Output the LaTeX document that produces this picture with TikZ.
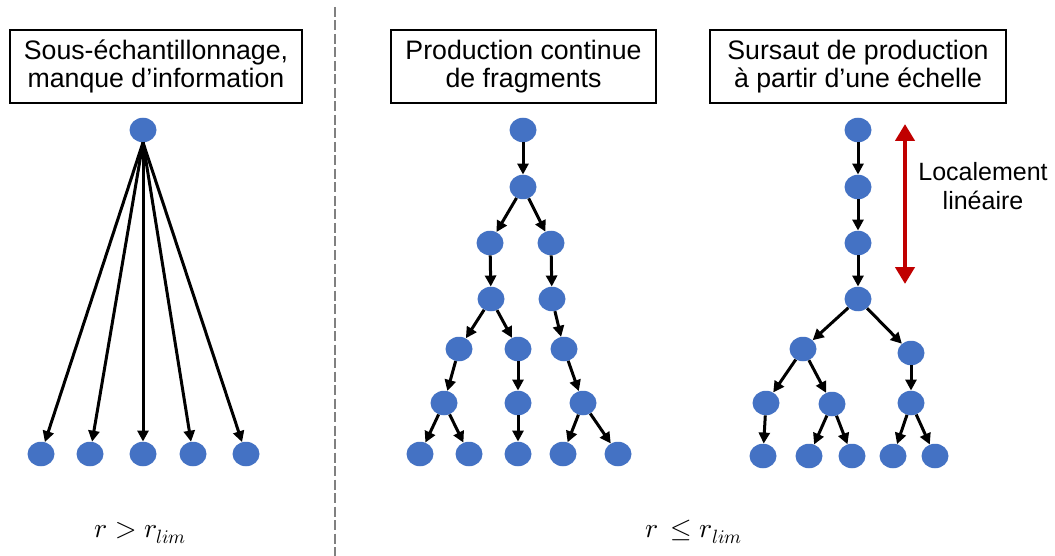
\documentclass[tikz,border=0pt]{standalone}
\usepackage{fontspec}
\usepackage{unicode-math}
\setmainfont{Liberation Sans}
\setmathfont{Latin Modern Math}
\usetikzlibrary{shapes.geometric, arrows.meta}
\definecolor{nodeblue}{HTML}{4472C4}
\definecolor{darkred}{HTML}{C00000}
\definecolor{sepgray}{HTML}{808080}
\begin{document}
\begin{tikzpicture}[x=1pt,y=-1pt,
  blob/.style={ellipse, fill=nodeblue, minimum width=27pt, minimum height=24.5pt, inner sep=0pt},
  link/.style={line width=3pt, -{Triangle[length=11pt,width=11pt]}},
  titlebox/.style={draw, line width=2.2pt, minimum height=73pt, align=center, font=\fontsize{26.7}{28.5}\selectfont, inner sep=0pt},
  redarrow/.style={darkred, line width=4.5pt, {Triangle[length=17pt,width=19pt]}-{Triangle[length=17pt,width=19pt]}},
  mathlabel/.style={font=\fontsize{27.5}{30}\selectfont, anchor=base, inner sep=0pt},
  sidelabel/.style={font=\fontsize{25}{29}\selectfont, align=center, inner sep=0pt}
  ]
\useasboundingbox (0,0) rectangle (1055,556);
\fill[white] (0,0) rectangle (1055,556);

% titles
\node[titlebox, minimum width=292pt] (t1) at (156,66.5) {Sous-échantillonnage,\\manque d’information};
\node[titlebox, minimum width=265pt] (t2) at (523.5,66.5) {Production continue\\de fragments};
\node[titlebox, minimum width=296pt] (t3) at (858,66.5) {Sursaut de production\\à partir d’une échelle};

% separator
\coordinate (s1) at (335,7);
\coordinate (s2) at (335,556);
\draw[sepgray, line width=2.8pt, dash pattern=on 10pt off 3.5pt] (s1) -- (s2);

% left panel
\node[blob] (a0) at (143,130) {};
\node[blob] (a1) at (41,454) {};
\node[blob] (a2) at (90,454) {};
\node[blob] (a3) at (143,454) {};
\node[blob] (a4) at (193,454) {};
\node[blob] (a5) at (246,454) {};
\foreach \i in {1,...,5} \draw[link] (a0.south) -- (a\i);

% middle tree
\node[blob] (b1) at (523,130) {};
\node[blob] (b2) at (523,187) {};
\node[blob] (b3) at (490,243) {};
\node[blob] (b4) at (551,243) {};
\node[blob] (b5) at (491,299) {};
\node[blob] (b6) at (552,299) {};
\node[blob] (b7) at (459,349) {};
\node[blob] (b8) at (518,349) {};
\node[blob] (b9) at (564,349) {};
\node[blob] (b10) at (444,403) {};
\node[blob] (b11) at (518,403) {};
\node[blob] (b12) at (583,403) {};
\node[blob] (b13) at (420,454) {};
\node[blob] (b14) at (469,454) {};
\node[blob] (b15) at (518,454) {};
\node[blob] (b16) at (563,454) {};
\node[blob] (b17) at (618,454) {};
\foreach \u/\v in {b1/b2, b2/b3, b2/b4, b3/b5, b4/b6, b5/b7, b5/b8, b6/b9, b7/b10, b8/b11, b9/b12, b10/b13, b10/b14, b11/b15, b12/b16, b12/b17}
  \draw[link] (\u) -- (\v);

% right tree
\node[blob] (c1) at (858,130) {};
\node[blob] (c2) at (858,187) {};
\node[blob] (c3) at (858,243) {};
\node[blob] (c4) at (858,299) {};
\node[blob] (c5) at (803,349) {};
\node[blob] (c6) at (911,353) {};
\node[blob] (c7) at (766,403) {};
\node[blob] (c8) at (832,404) {};
\node[blob] (c9) at (911,403) {};
\node[blob] (c10) at (763,456) {};
\node[blob] (c11) at (809,456) {};
\node[blob] (c12) at (852,456) {};
\node[blob] (c13) at (893,456) {};
\node[blob] (c14) at (935,456) {};
\foreach \u/\v in {c1/c2, c2/c3, c3/c4, c4/c5, c4/c6, c5/c7, c5/c8, c6/c9, c7/c10, c8/c11, c8/c12, c9/c13, c9/c14}
  \draw[link] (\u) -- (\v);

% red arrow and label
\coordinate (r1) at (905,124);
\coordinate (r2) at (905,284);
\draw[redarrow] (r1) -- (r2);
\node[sidelabel] (lab) at (983,186) {Localement\\linéaire};

% conditions
\node[mathlabel] (m1) at (140.5,537) {$r > r_{lim}$};
\node[mathlabel] (m2) at (694,537) {$r\,\leq r_{lim}$};
\end{tikzpicture}
\end{document}
